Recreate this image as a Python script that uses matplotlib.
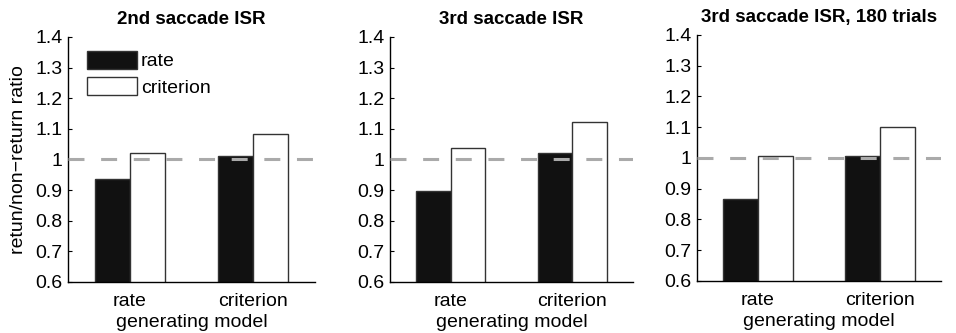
import matplotlib.pyplot as plt
import numpy as np

plt.rcParams['font.family'] = ['Liberation Sans', 'DejaVu Sans']
plt.rcParams['lines.scale_dashes'] = False

# generating models on the x axis, fitted models as the two bar series
models = ['rate', 'criterion']
titles = ['2nd saccade ISR', '3rd saccade ISR', '3rd saccade ISR, 180 trials']

rate_fit = [
    [0.937, 1.011],
    [0.897, 1.020],
    [0.867, 1.006],
]
criterion_fit = [
    [1.021, 1.083],
    [1.039, 1.121],
    [1.008, 1.101],
]

yticks = [0.6, 0.7, 0.8, 0.9, 1.0, 1.1, 1.2, 1.3, 1.4]
ytick_labels = ['0.6', '0.7', '0.8', '0.9', '1', '1.1', '1.2', '1.3', '1.4']

# axes rectangles in figure fractions
positions = [
    [0.0711, 0.1532, 0.2584, 0.7357],
    [0.4080, 0.1532, 0.2542, 0.7357],
    [0.7290, 0.1562, 0.2552, 0.7387],
]

fig = plt.figure(figsize=(9.56, 3.33), dpi=100)
x = np.arange(1, len(models) + 1)
w = 0.285
fs = 14

for i in range(3):
    ax = fig.add_axes(positions[i])
    ax.bar(x - w / 2, rate_fit[i], w, bottom=0, color='#111111',
           edgecolor='#333333', linewidth=1.0, label='rate', zorder=2)
    ax.bar(x + w / 2, criterion_fit[i], w, bottom=0, color='white',
           edgecolor='#333333', linewidth=1.0, label='criterion', zorder=2)
    ax.axhline(1.0, color='#aaaaaa', linewidth=2.2, dashes=(11.5, 12.0),
               zorder=3)

    ax.set_xlim(0.5, 2.5)
    ax.set_ylim(0.6, 1.4)
    ax.set_xticks(x)
    ax.set_xticklabels(models, fontsize=fs)
    ax.set_yticks(yticks)
    ax.set_yticklabels(ytick_labels, fontsize=fs)
    ax.tick_params(direction='in', length=3, width=0.8, pad=4)
    ax.tick_params(axis='x', length=0, pad=8)
    ax.spines['top'].set_visible(False)
    ax.spines['right'].set_visible(False)
    ax.spines['left'].set_linewidth(1.0)
    ax.spines['bottom'].set_linewidth(1.0)
    ax.set_xlabel('generating model', fontsize=fs, labelpad=3)
    ax.set_title(titles[i], fontsize=13.5, fontweight='bold', pad=9)

    if i == 0:
        ax.set_ylabel('retun/non\u2212return ratio', fontsize=fs, labelpad=6)
        ax.legend(loc='upper left', bbox_to_anchor=(0.077, 0.943),
                  frameon=False, fontsize=fs, borderpad=0,
                  borderaxespad=0, handlelength=2.57, handleheight=1.03,
                  handletextpad=0.2, labelspacing=0.35)

fig.savefig('out.png', dpi=100)
